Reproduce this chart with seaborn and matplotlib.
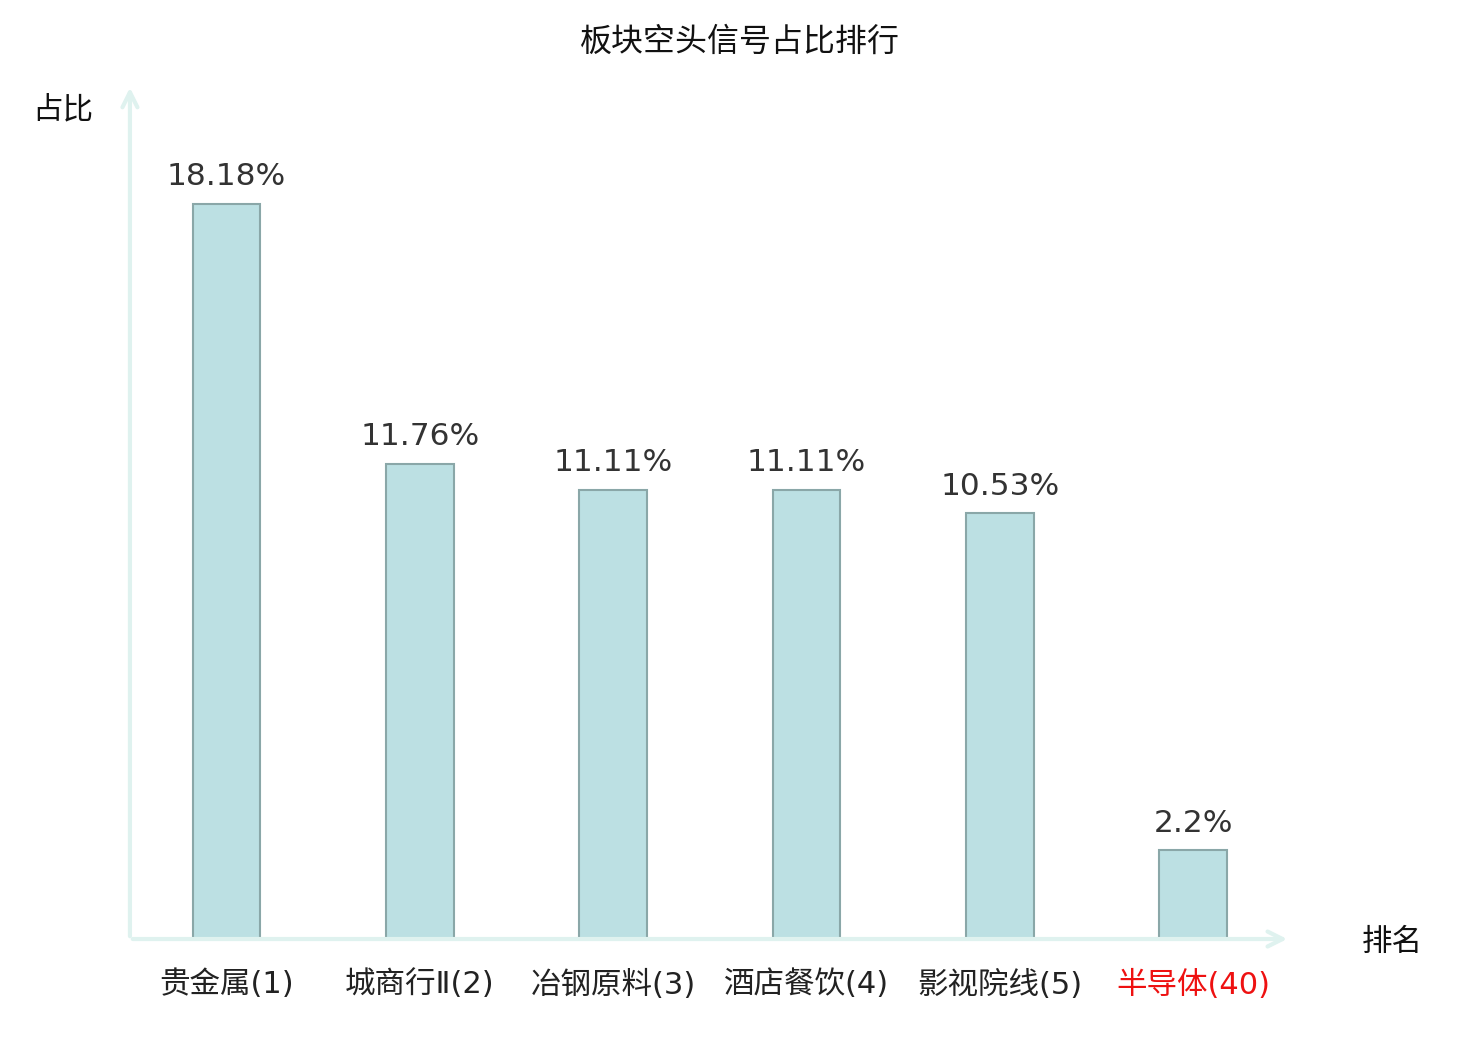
import matplotlib
matplotlib.use("Agg")
import matplotlib.pyplot as plt
import seaborn as sns
import pandas as pd

# chart data
categories = ["贵金属(1)", "城商行Ⅱ(2)", "冶钢原料(3)", "酒店餐饮(4)", "影视院线(5)", "半导体(40)"]
shares = [18.18, 11.76, 11.11, 11.11, 10.53, 2.2]
value_labels = ["18.18%", "11.76%", "11.11%", "11.11%", "10.53%", "2.2%"]
label_colors = ["#222222", "#222222", "#222222", "#222222", "#222222", "#ee1111"]

sns.set_theme(style="white")
plt.rcParams["font.family"] = ["Noto Sans CJK SC", "DejaVu Sans"]

axis_color = "#dff2ef"
bar_color = "#bce0e3"
edge_color = "#8aa7a8"

fig = plt.figure(figsize=(14.8, 10.4), dpi=100)
ax = fig.add_axes([0.0878, 0.0971, 0.7838, 0.8164])

df = pd.DataFrame({"cat": categories, "share": shares})
sns.barplot(data=df, x="cat", y="share", color=bar_color, width=0.35,
            edgecolor=edge_color, linewidth=1.5, saturation=1, ax=ax)

ax.set_xlim(-0.5, 5.5)
ax.set_ylim(0, 21.0)
for s in ax.spines.values():
    s.set_visible(False)
ax.set_yticks([])
ax.set_xlabel("")
ax.set_ylabel("")
ax.tick_params(axis="x", length=0, pad=22)
ax.set_xticks(range(len(categories)))
ax.set_xticklabels(categories, fontsize=22, family=["DejaVu Sans", "Noto Sans CJK SC"])
for t, c in zip(ax.get_xticklabels(), label_colors):
    t.set_color(c)

# value labels
for i, (v, lab) in enumerate(zip(shares, value_labels)):
    ax.annotate(lab, (i, v), xytext=(0, 9), textcoords="offset points",
                ha="center", va="bottom", fontsize=22.5, color="#333333",
                family="DejaVu Sans")

# axis arrows
ax.annotate("", xy=(1, 0), xytext=(0, 0), xycoords="axes fraction",
            arrowprops=dict(arrowstyle="->,head_length=0.9,head_width=0.45",
                            color=axis_color, lw=3), annotation_clip=False)
ax.annotate("", xy=(0, 1.006), xytext=(0, 0), xycoords="axes fraction",
            arrowprops=dict(arrowstyle="->,head_length=0.9,head_width=0.45",
                            color=axis_color, lw=3), annotation_clip=False)

fig.text(63 / 1480, 1 - 110 / 1040, "占比", ha="center", va="center", fontsize=22, color="#111111")
fig.text(1392 / 1480, 1 - 942 / 1040, "排名", ha="center", va="center", fontsize=22, color="#111111")
fig.text(0.5, 1 - 42 / 1040, "板块空头信号占比排行", ha="center", va="center", fontsize=23, color="#111111")

fig.savefig("out.png", dpi=100)
